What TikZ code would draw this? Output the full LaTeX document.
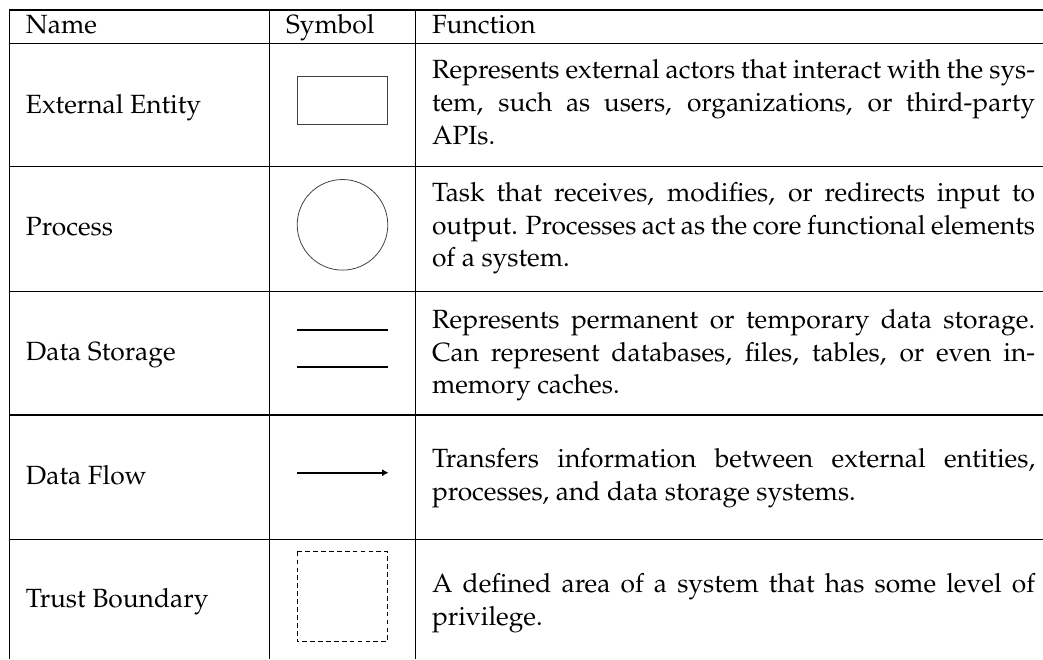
\documentclass[tikz,border=0pt]{standalone}
\usepackage[T1]{fontenc}
\usepackage{mathpazo}
\usetikzlibrary{arrows.meta}
\tikzset{
  rule/.style={line width=0.4pt,black},
  symline/.style={line width=0.3pt,black!75},
  txt/.style={inner sep=0pt,outer sep=0pt,anchor=base west,font=\fontsize{10}{12.51}\selectfont},
  para/.style={txt,text width=228.7pt,align=justify},
}
\begin{document}
\begin{tikzpicture}[x=0.3792pt,y=-0.3792pt]
\useasboundingbox (0,0) rectangle (1043,659);
% table rules
\foreach \yy in {10,43.3,166.7,291.7,415,539.3}
  \draw[rule] (9.3,\yy) -- (1043,\yy);
\foreach \xx in {9.3,269.3,415.7}
  \draw[rule] (\xx,10) -- (\xx,659);
% header
\node[txt] (hname) at (26,33.3) {Name};
\node[txt] (hsym) at (286,33.3) {Symbol};
\node[txt] (hfun) at (432,33.3) {Function};
% names
\node[txt] (n1) at (26,113.3) {External Entity};
\node[txt] (n2) at (26,235) {Process};
\node[txt] (n3) at (26,360) {Data Storage};
\node[txt] (n4) at (26,484) {Data Flow};
\node[txt] (n5) at (26,607) {Trust Boundary};
% functions
\node[para] (p1) at (432,78.5) {Represents external actors that interact with the sys-\linebreak tem, such as users, organizations, or third-party\linebreak APIs.};
\node[para] (p2) at (432,201) {Task that receives, modifies, or redirects input to\linebreak output. Processes act as the core functional elements\linebreak of a system.};
\node[para] (p3) at (432,328) {Represents permanent or temporary data storage.\linebreak Can represent databases, files, tables, or even in-\linebreak memory caches.};
\node[para] (p4) at (432,467) {Transfers information between external entities,\linebreak processes, and data storage systems.};
\node[para] (p5) at (432,592) {A defined area of a system that has some level of\linebreak privilege.};
% symbols
\draw[symline] (297.3,76) rectangle (387.7,124.7);
\draw[symline] (342.5,224.8) circle[radius=45.3];
\coordinate (s1a) at (297.3,330);
\coordinate (s1b) at (387.7,330);
\coordinate (s2a) at (297.3,366.7);
\coordinate (s2b) at (387.7,366.7);
\draw[line width=0.65pt] (s1a) -- (s1b);
\draw[line width=0.65pt] (s2a) -- (s2b);
\coordinate (fa) at (296.7,472.7);
\coordinate (fb) at (388.5,472.7);
\draw[line width=0.6pt,-{Latex[length=2.4pt,width=2.7pt]}] (fa) -- (fb);
\draw[line width=0.4pt,dash pattern=on 1.8pt off 1.2pt] (297.3,551.7) rectangle (387.7,641.7);
\end{tikzpicture}
\end{document}
